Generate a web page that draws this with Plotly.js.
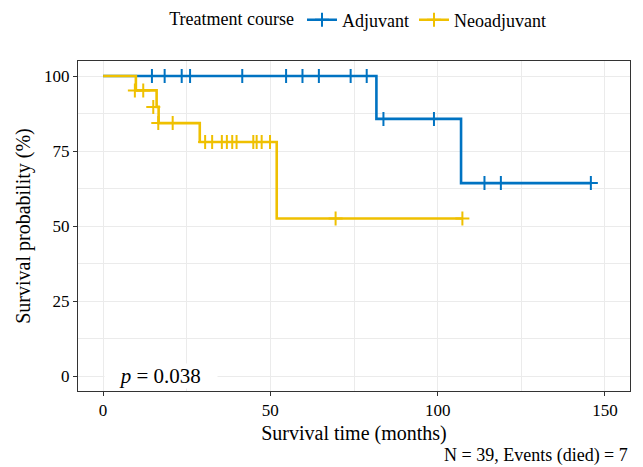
<!DOCTYPE html>
<html>
<head>
<meta charset="utf-8">
<script src="https://cdn.plot.ly/plotly-3.0.1.min.js"></script>
<style>
  html, body { margin: 0; padding: 0; background: #fff; }
  #chart { width: 643px; height: 467px; }
</style>
</head>
<body>
<div id="chart"></div>
<script>
// ---- Data ----
const groups = ["Adjuvant", "Neoadjuvant"];

// Kaplan-Meier step curves (time in months, survival in %)
const adjStepTime = [0, 81.7, 107.0, 145.8];
const adjStepSurv = [100, 85.7, 64.3, 64.3];
const neoStepTime = [0, 9.8, 16.0, 16.6, 28.9, 51.9, 107.4];
const neoStepSurv = [100, 95.2, 89.7, 84.3, 78.0, 52.5, 52.5];

// Censored observations
const adjCensorTime = [14.6, 18.4, 23.5, 26.0, 41.6, 54.7, 59.6, 64.5, 74.0, 78.8, 83.8, 98.9, 114.0, 118.9, 145.8];
const adjCensorSurv = [100, 100, 100, 100, 100, 100, 100, 100, 100, 100, 85.7, 85.7, 64.3, 64.3, 64.3];
const neoCensorTime = [9.5, 12.0, 15.0, 16.5, 20.8, 30.5, 32.6, 35.5, 37.0, 38.6, 39.9, 44.9, 45.9, 47.4, 49.9, 69.5, 107.4];
const neoCensorSurv = [95.2, 95.2, 89.7, 84.3, 84.3, 78.0, 78.0, 78.0, 78.0, 78.0, 78.0, 78.0, 78.0, 78.0, 78.0, 52.5, 52.5];

const xTicks = [0, 50, 100, 150];
const yTicks = [0, 25, 50, 75, 100];
const pValueText = "<i>p</i> = 0.038";
const captionText = "N = 39, Events (died) = 7";

// ---- Styling ----
const colors = { "Adjuvant": "#0073C2", "Neoadjuvant": "#EFC000" };
const FONT = "Liberation Serif";

function stepTrace(name, t, s) {
  return { x: t, y: s, type: "scatter", mode: "lines", line: { shape: "hv", color: colors[name], width: 2.6 },
           showlegend: false, hoverinfo: "skip" };
}
function censorTrace(name, t, s) {
  return { x: t, y: s, type: "scatter", mode: "markers",
           marker: { symbol: "cross-thin", size: 10, line: { width: 2, color: colors[name] }, color: colors[name] },
           showlegend: false, hoverinfo: "skip" };
}
function legendTrace(name) {
  return { x: [null], y: [null], type: "scatter", mode: "lines+markers", name: name,
           line: { color: colors[name], width: 2.6 },
           marker: { symbol: "cross-thin", size: 10, line: { width: 2, color: colors[name] } } };
}

const data = [
  stepTrace("Adjuvant", adjStepTime, adjStepSurv),
  censorTrace("Adjuvant", adjCensorTime, adjCensorSurv),
  stepTrace("Neoadjuvant", neoStepTime, neoStepSurv),
  censorTrace("Neoadjuvant", neoCensorTime, neoCensorSurv),
  legendTrace(groups[0]),
  legendTrace(groups[1])
];

const layout = {
  width: 643, height: 467,
  margin: { l: 78, r: 13, t: 61, b: 76 },
  paper_bgcolor: "#fff", plot_bgcolor: "#fff",
  font: { family: FONT, color: "#000", size: 17 },
  xaxis: {
    range: [-7.5, 157.5], tickvals: xTicks, ticktext: xTicks.map(String),
    showgrid: true, gridcolor: "#EBEBEB", gridwidth: 1,
    minor: { tickvals: [25, 75, 125], showgrid: true, gridcolor: "#EBEBEB", gridwidth: 1, ticks: "" },
    zeroline: false, showline: true, mirror: true, linecolor: "#333333", linewidth: 1,
    ticks: "outside", ticklen: 4, tickcolor: "#333333",
    tickfont: { family: FONT, size: 17, color: "#000" },
    title: { text: "Survival time (months)", font: { family: FONT, size: 20, color: "#000" }, standoff: 6 }
  },
  yaxis: {
    range: [-5, 105], tickvals: yTicks, ticktext: yTicks.map(String),
    showgrid: true, gridcolor: "#EBEBEB", gridwidth: 1,
    minor: { tickvals: [12.5, 37.5, 62.5, 87.5], showgrid: true, gridcolor: "#EBEBEB", gridwidth: 1, ticks: "" },
    zeroline: false, showline: true, mirror: true, linecolor: "#333333", linewidth: 1,
    ticks: "outside", ticklen: 4, tickcolor: "#333333",
    tickfont: { family: FONT, size: 17, color: "#000" },
    title: { text: "Survival probability (%)", font: { family: FONT, size: 20, color: "#000" }, standoff: 8 }
  },
  legend: {
    orientation: "h", xref: "container", yref: "container",
    x: 0.26, xanchor: "left", y: 0.957, yanchor: "middle",
    font: { family: FONT, size: 18, color: "#000" },
    title: { text: "Treatment course", side: "left", font: { family: FONT, size: 18, color: "#000" } },
    bgcolor: "rgba(0,0,0,0)", itemwidth: 30, tracegroupgap: 0
  },
  annotations: [
    { xref: "x", yref: "y", x: 17.2, y: 0, text: "&nbsp;&nbsp;&nbsp;" + pValueText + "&nbsp;&nbsp;&nbsp;",
      showarrow: false, font: { family: FONT, size: 21, color: "#000" }, bgcolor: "#fff", borderpad: 0,
      xanchor: "center", yanchor: "middle" },
    { xref: "paper", yref: "paper", x: 1.0, y: 0, yshift: -64, text: captionText, showarrow: false,
      font: { family: FONT, size: 18, color: "#000" }, xanchor: "right", yanchor: "middle" }
  ]
};

Plotly.newPlot("chart", data, layout, { displayModeBar: false, staticPlot: true });
</script>
</body>
</html>
